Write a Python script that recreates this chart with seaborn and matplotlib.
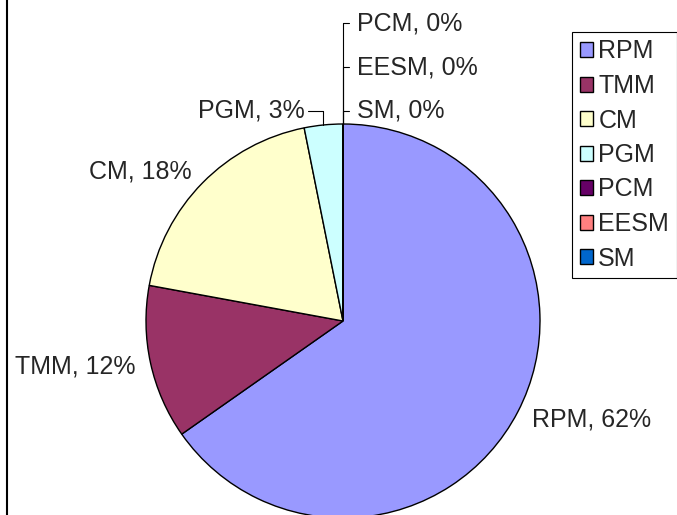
import matplotlib
matplotlib.use("Agg")
import matplotlib.pyplot as plt
from matplotlib.lines import Line2D
import seaborn as sns
import numpy as np

# data (labels show the raw value as a percent)
categories = ["RPM", "TMM", "CM", "PGM", "PCM", "EESM", "SM"]
shares = [0.62, 0.12, 0.18, 0.03, 0.0, 0.0, 0.0]
colors = ["#9999FF", "#993366", "#FFFFCC", "#CCFFFF", "#660066", "#FF8080", "#0066CC"]

sns.set_theme(style="white")
plt.rcParams["font.family"] = ["Liberation Sans", "DejaVu Sans"]
FS = 18

W, H = 677, 515
fig = plt.figure(figsize=(W / 100, H / 100), dpi=100)
fig.patch.set_facecolor("white")

# pie box in pixels: centre (343, 321), radius 197
cx, cy, r = 343, 321, 197
ax = fig.add_axes([(cx - r) / W, (H - cy - r) / H, 2 * r / W, 2 * r / H])

wedges, _ = ax.pie(shares, colors=colors, startangle=90, counterclock=False,
                   wedgeprops=dict(edgecolor="black", linewidth=1.0))
ax.set_xlim(-1, 1)
ax.set_ylim(-1, 1)
ax.axis("off")

total = sum(shares)
px = 1.0 / r  # one pixel in data units
base_y = 1.066
step = 0.223

# labels
rank_right = 0
for i in reversed(range(len(shares))):
    w = wedges[i]
    txt = f"{categories[i]}, {shares[i]:.0%}"
    mid = np.deg2rad((w.theta1 + w.theta2) / 2)
    ex, ey = np.cos(mid), np.sin(mid)
    if shares[i] / total >= 0.05:
        d = 1.08
        ax.text(d * ex, d * ey, txt, fontsize=FS, ha="left" if ex > 0 else "right",
                va="center", clip_on=False)
        continue
    if abs(ex) < 1e-6:
        # zero slices stacked above the top of the pie
        ly = base_y + step * rank_right
        rank_right += 1
        ax.plot([0, 0], [ey, ly], color="black", lw=0.8, clip_on=False)
        ax.plot([0, 6 * px], [ly, ly], color="black", lw=0.8, clip_on=False)
        ax.text(14 * px, ly, txt, fontsize=FS, ha="left", va="center", clip_on=False)
    else:
        ly = base_y
        ax.plot([ex, ex], [ey, ly], color="black", lw=0.8, clip_on=False)
        ax.plot([ex, ex - 15 * px], [ly, ly], color="black", lw=0.8, clip_on=False)
        ax.text(ex - 19 * px, ly, txt, fontsize=FS, ha="right", va="center", clip_on=False)

leg = fig.legend(wedges, categories, loc="upper left",
                 bbox_to_anchor=(572 / W, 1 - 32 / H), borderaxespad=0,
                 fontsize=FS, frameon=True, fancybox=False, shadow=False,
                 edgecolor="black", framealpha=1, handlelength=0.55,
                 handleheight=0.55, handletextpad=0.2, labelspacing=0.42,
                 borderpad=0.3)
leg.get_frame().set_linewidth(0.8)

# chart area border on the left
fig.add_artist(Line2D([7 / W, 7 / W], [0, 1], color="black", lw=1.5))

fig.savefig("out.png", dpi=100, facecolor="white")
